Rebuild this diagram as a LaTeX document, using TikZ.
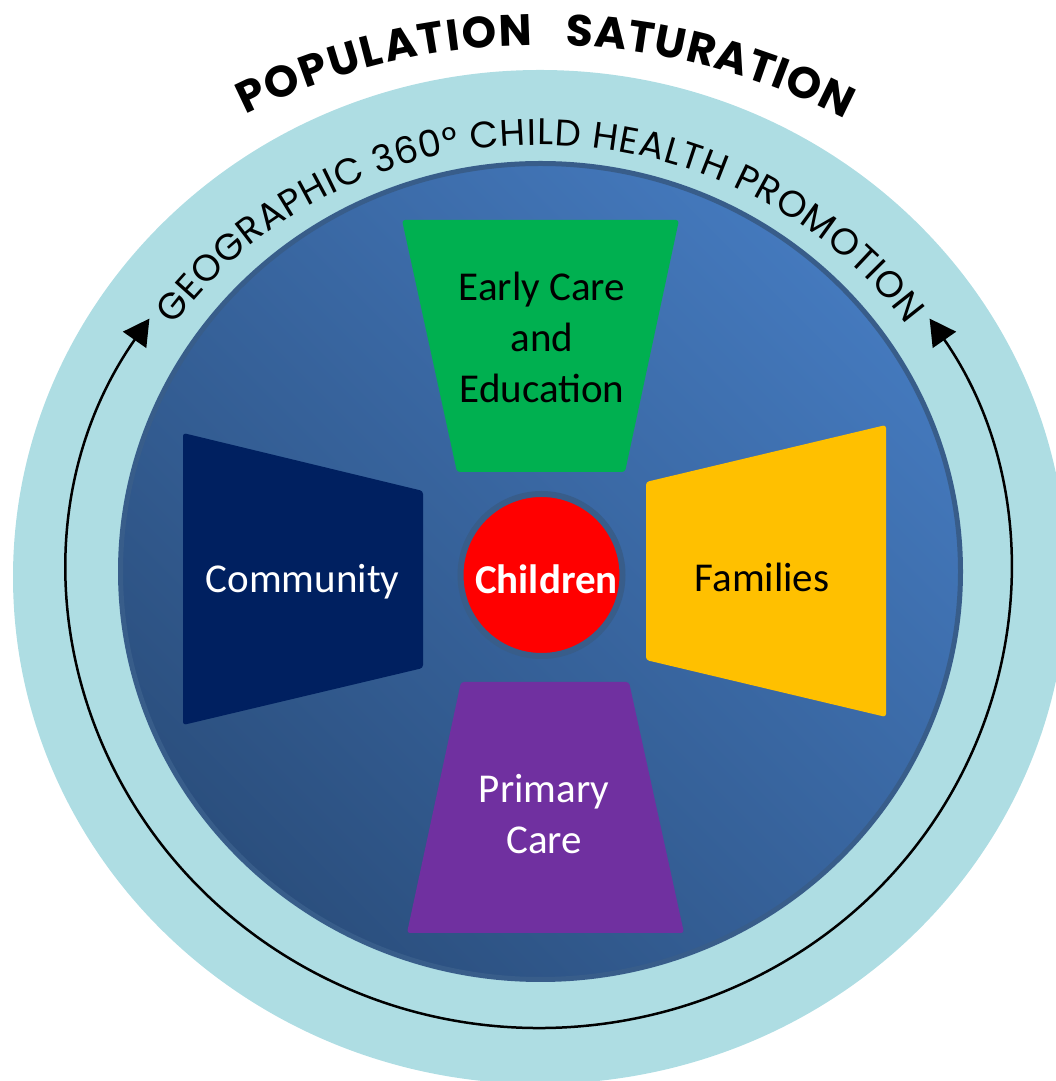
\documentclass[tikz,border=0pt]{standalone}
\usepackage{fontspec}
\setmainfont{Carlito}
\newfontfamily\gothic{Poppins}
\usetikzlibrary{decorations.text,arrows.meta}
\definecolor{ringblue}{HTML}{AEDDE3}
\definecolor{dbtop}{HTML}{4479BD}
\definecolor{dbbot}{HTML}{2B4F7E}
\definecolor{dbborder}{HTML}{385D8A}
\definecolor{ecegreen}{HTML}{00B050}
\definecolor{commnavy}{HTML}{002060}
\definecolor{famyellow}{HTML}{FFC000}
\definecolor{pcpurple}{HTML}{7030A0}
\definecolor{childred}{HTML}{FF0000}
\tikzset{
  boxtext/.style={font=\fontsize{41}{51}\selectfont, align=center, inner sep=0pt},
  trap/.style={rounded corners=3pt},
}
\begin{document}
\begin{tikzpicture}[x=1pt,y=1pt]
\useasboundingbox (0,0) rectangle (1056,1081);
% outer light band
\fill[ringblue] (540,504) ellipse [x radius=527, y radius=507];
% circular arrow
\draw[line width=2.5pt, {Triangle[length=26pt,width=28pt]}-{Triangle[length=26pt,width=28pt]}]
  (539.5,508) ++(146:470.5 and 455) arc[start angle=146, end angle=394, x radius=470.5, y radius=455];
% inner dark disc
\path[draw=dbborder, line width=5pt, top color=dbtop, bottom color=dbbot, shading angle=-45]
  (540.5,509.5) ellipse [x radius=420, y radius=408];
% trapezoids
\fill[ecegreen, trap] (402,861) -- (679,861) -- (625,609) -- (457,609) -- cycle;
\fill[commnavy, trap] (183,648) -- (423,590) -- (423,413) -- (183,356) -- cycle;
\fill[famyellow, trap] (646,599) -- (886,656) -- (886,364) -- (646,421) -- cycle;
\fill[pcpurple, trap] (461,399) -- (629,399) -- (684,148) -- (407,148) -- cycle;
% labels
\node[boxtext, text=black] (ece) at (542,743.5) {Early Care\\and\\Education};
\node[boxtext, text=white] (comm) at (302.5,499) {Community};
\node[boxtext, text=black] (fam) at (762,503.5) {Families};
\node[boxtext, text=white] (pc) at (544,267) {Primary\\Care};
% centre
\node[circle, fill=childred, draw=dbborder, line width=6pt, minimum size=162pt, inner sep=0pt] (children) at (541.5,506) {};
\node[inner sep=0pt, text=white, font=\bfseries\fontsize{41}{41}\selectfont] (childrenlabel) at (546.5,502) {Children};
% curved texts
\path[decorate, decoration={text along path, text align={fit to path},
  text={|\gothic\bfseries\fontsize{44}{44}\selectfont|POPULATION}}]
  (541,375) ++(116.6:661) arc[start angle=116.6, end angle=90.7, radius=661];
\path[decorate, decoration={text along path, text align={fit to path},
  text={|\gothic\bfseries\fontsize{44}{44}\selectfont|SATURATION}}]
  (541,375) ++(87.9:661) arc[start angle=87.9, end angle=62.6, radius=661];
\path[decorate, decoration={text along path, text align={fit to path},
  text={|\gothic\fontsize{37}{37}\selectfont|GEOGRAPHIC 360° CHILD HEALTH PROMOTION}}]
  (540,506) ++(144.5:450 and 430) arc[start angle=144.5, end angle=35.5, x radius=450, y radius=430];
\end{tikzpicture}
\end{document}
